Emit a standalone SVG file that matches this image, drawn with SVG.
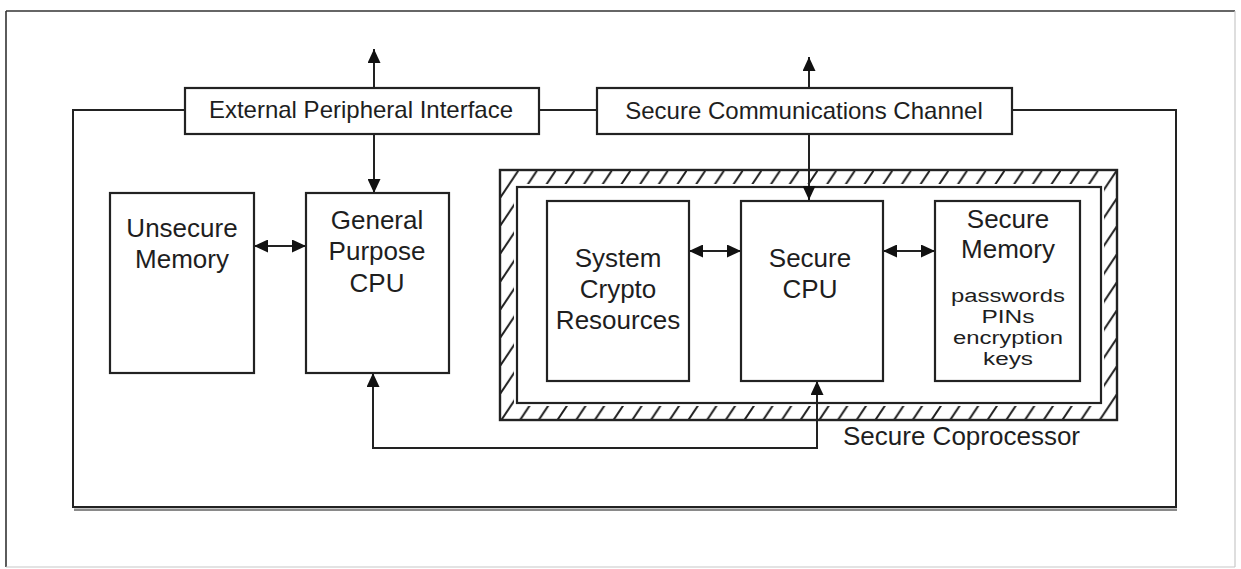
<svg xmlns="http://www.w3.org/2000/svg" width="1241" height="569" viewBox="0 0 1241 569">
  <style>
    .box { fill: #ffffff; stroke: #222222; stroke-width: 2.2; }
    .lbl { font-family: "Liberation Sans", Arial, sans-serif; font-size: 26px; fill: #1e1e1e; text-anchor: middle; }
    .lbl24 { font-family: "Liberation Sans", Arial, sans-serif; font-size: 24px; fill: #1e1e1e; text-anchor: middle; }
    .small { font-family: "Liberation Sans", Arial, sans-serif; font-size: 18px; fill: #1e1e1e; text-anchor: middle; }
    .wire { fill: none; stroke: #222222; stroke-width: 2; }
    .arrow { fill: none; stroke: #222222; stroke-width: 2; marker-end: url(#ah); }
    .arrow2 { fill: none; stroke: #222222; stroke-width: 2; marker-start: url(#ahs); marker-end: url(#ah); }
  </style>
  <defs>
    <marker id="ah" markerUnits="userSpaceOnUse" markerWidth="14" markerHeight="13" refX="14" refY="6.5" orient="auto">
      <path d="M0,0 L14,6.5 L0,13 Z" fill="#111111"/>
    </marker>
    <marker id="ahs" markerUnits="userSpaceOnUse" markerWidth="14" markerHeight="13" refX="14" refY="6.5" orient="auto-start-reverse">
      <path d="M0,0 L14,6.5 L0,13 Z" fill="#111111"/>
    </marker>
    <pattern id="hatch" patternUnits="userSpaceOnUse" x="500" y="170" width="18.7" height="28">
      <rect width="18.7" height="28" fill="#ffffff"/>
      <path d="M0,28 L18.7,0" stroke="#1e1e1e" stroke-width="2"/>
    </pattern>
  </defs>

  <rect width="1241" height="569" fill="#ffffff"/>

  <!-- outer frame -->
  <g id="frame">
    <line x1="6" y1="11" x2="1235" y2="11" stroke="#333333" stroke-width="1.6"/>
    <line x1="6" y1="11" x2="6" y2="567" stroke="#333333" stroke-width="1.6"/>
    <line x1="1235" y1="11" x2="1235" y2="567" stroke="#c8c8c8" stroke-width="1.2"/>
    <line x1="6" y1="567" x2="1235" y2="567" stroke="#c8c8c8" stroke-width="1.2"/>
  </g>

  <!-- secure coprocessor (hatched enclosure) -->
  <g id="secure-coprocessor">
    <rect x="500" y="170" width="617" height="250" fill="url(#hatch)" stroke="#222222" stroke-width="2.4"/>
    <rect x="517" y="187" width="584" height="216" fill="#ffffff" stroke="#ffffff" stroke-width="6"/>
    <rect x="517" y="187" width="584" height="216" fill="none" stroke="#222222" stroke-width="2.2"/>
    <text class="lbl" x="843" y="445" style="text-anchor:start">Secure Coprocessor</text>
  </g>

  <!-- connectors -->
  <g id="connectors">
    <path class="wire" d="M185,110 L73,110 L73,507 L1176,507 L1176,110 L1012,110"/>
    <line x1="74" y1="509.8" x2="1177" y2="509.8" stroke="#8a8a8a" stroke-width="2.4"/>
    <path class="wire" d="M539,110 L597,110"/>
    <path class="arrow" d="M374,88 L374,49"/>
    <path class="arrow" d="M374,134 L374,193"/>
    <path class="arrow" d="M809,88 L809,57"/>
    <path class="arrow" d="M809,134 L809,200"/>
    <path class="arrow2" d="M254,246 L306,246"/>
    <path class="arrow2" d="M689,251 L741,251"/>
    <path class="arrow2" d="M883,251 L935,251"/>
    <path class="arrow2" d="M817,381 L817,448 L373,448 L373,373"/>
  </g>

  <g id="external-peripheral-interface">
    <rect class="box" x="185" y="88" width="354" height="46"/>
    <text class="lbl24" x="361" y="118">External Peripheral Interface</text>
  </g>

  <g id="secure-communications-channel">
    <rect class="box" x="597" y="88" width="415" height="46"/>
    <text class="lbl24" x="804" y="119">Secure Communications Channel</text>
  </g>

  <g id="unsecure-memory">
    <rect class="box" x="110" y="193" width="144" height="180"/>
    <text class="lbl" x="182" y="237">Unsecure</text>
    <text class="lbl" x="182" y="268">Memory</text>
  </g>

  <g id="general-purpose-cpu">
    <rect class="box" x="306" y="193" width="143" height="180"/>
    <text class="lbl" x="377" y="229">General</text>
    <text class="lbl" x="377" y="260">Purpose</text>
    <text class="lbl" x="377" y="292">CPU</text>
  </g>

  <g id="system-crypto-resources">
    <rect class="box" x="547" y="201" width="142" height="180"/>
    <text class="lbl" x="618" y="267">System</text>
    <text class="lbl" x="618" y="298">Crypto</text>
    <text class="lbl" x="618" y="329">Resources</text>
  </g>

  <g id="secure-cpu">
    <rect class="box" x="741" y="201" width="142" height="180"/>
    <text class="lbl" x="810" y="267">Secure</text>
    <text class="lbl" x="810" y="298">CPU</text>
  </g>

  <g id="secure-memory">
    <rect class="box" x="935" y="201" width="145" height="180"/>
    <text class="lbl" x="1008" y="228">Secure</text>
    <text class="lbl" x="1008" y="258">Memory</text>
    <text class="small" x="1008" y="302" textLength="114" lengthAdjust="spacingAndGlyphs">passwords</text>
    <text class="small" x="1008" y="323" textLength="53" lengthAdjust="spacingAndGlyphs">PINs</text>
    <text class="small" x="1008" y="344" textLength="110" lengthAdjust="spacingAndGlyphs">encryption</text>
    <text class="small" x="1008" y="365" textLength="50" lengthAdjust="spacingAndGlyphs">keys</text>
  </g>
</svg>
